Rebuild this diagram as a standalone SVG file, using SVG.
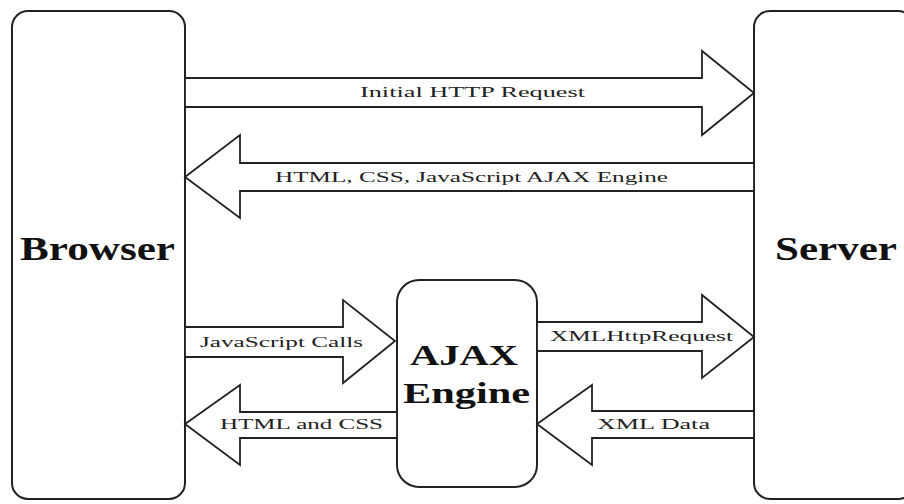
<svg xmlns="http://www.w3.org/2000/svg" width="904" height="504" viewBox="0 0 904 504">
<style>
.box{fill:#fff;stroke:#222;stroke-width:2}
.arr{fill:#fff;stroke:#222;stroke-width:1.8;stroke-linejoin:miter}
.big{font-family:"Liberation Serif","Times New Roman",serif;font-weight:bold;fill:#111}
.lbl{font-family:"Liberation Serif","Times New Roman",serif;font-size:14px;fill:#222}
</style>
<rect width="904" height="504" fill="#fff"/>
<g id="browser">
<rect class="box" x="12" y="11" width="173" height="488" rx="16"/>
<text class="big" x="20" y="260" font-size="33" textLength="155" lengthAdjust="spacingAndGlyphs">Browser</text>
</g>
<g id="server">
<rect class="box" x="754" y="11" width="160" height="488" rx="16"/>
<text class="big" x="775" y="260" font-size="33" textLength="122" lengthAdjust="spacingAndGlyphs">Server</text>
</g>
<g id="ajax-engine">
<rect class="box" x="397" y="280" width="140" height="207" rx="22"/>
<text class="big" x="410" y="365" font-size="30" textLength="108" lengthAdjust="spacingAndGlyphs">AJAX</text>
<text class="big" x="403" y="403" font-size="30" textLength="127" lengthAdjust="spacingAndGlyphs">Engine</text>
</g>
<g id="connectors">
<polygon class="arr" points="185,78 702,78 702,51 754,93 702,135 702,107 185,107"/>
<text class="lbl" x="360" y="97" textLength="225" lengthAdjust="spacingAndGlyphs">Initial HTTP Request</text>
<polygon class="arr" points="185,177 240,135 240,163 754,163 754,191 240,191 240,218"/>
<text class="lbl" x="275" y="182" textLength="393" lengthAdjust="spacingAndGlyphs">HTML, CSS, JavaScript AJAX Engine</text>
<polygon class="arr" points="185,327 343,327 343,300 395,341 343,383 343,357 185,357"/>
<text class="lbl" x="200" y="347" textLength="163" lengthAdjust="spacingAndGlyphs">JavaScript Calls</text>
<polygon class="arr" points="185,424 240,385 240,412 397,412 397,438 240,438 240,465"/>
<text class="lbl" x="220" y="429" textLength="163" lengthAdjust="spacingAndGlyphs">HTML and CSS</text>
<polygon class="arr" points="537,322 702,322 702,295 754,337 702,378 702,351 537,351"/>
<text class="lbl" x="550" y="341" textLength="183" lengthAdjust="spacingAndGlyphs">XMLHttpRequest</text>
<polygon class="arr" points="537,424 592,385 592,411 754,411 754,438 592,438 592,465"/>
<text class="lbl" x="597" y="429" textLength="113" lengthAdjust="spacingAndGlyphs">XML Data</text>
</g>
</svg>
